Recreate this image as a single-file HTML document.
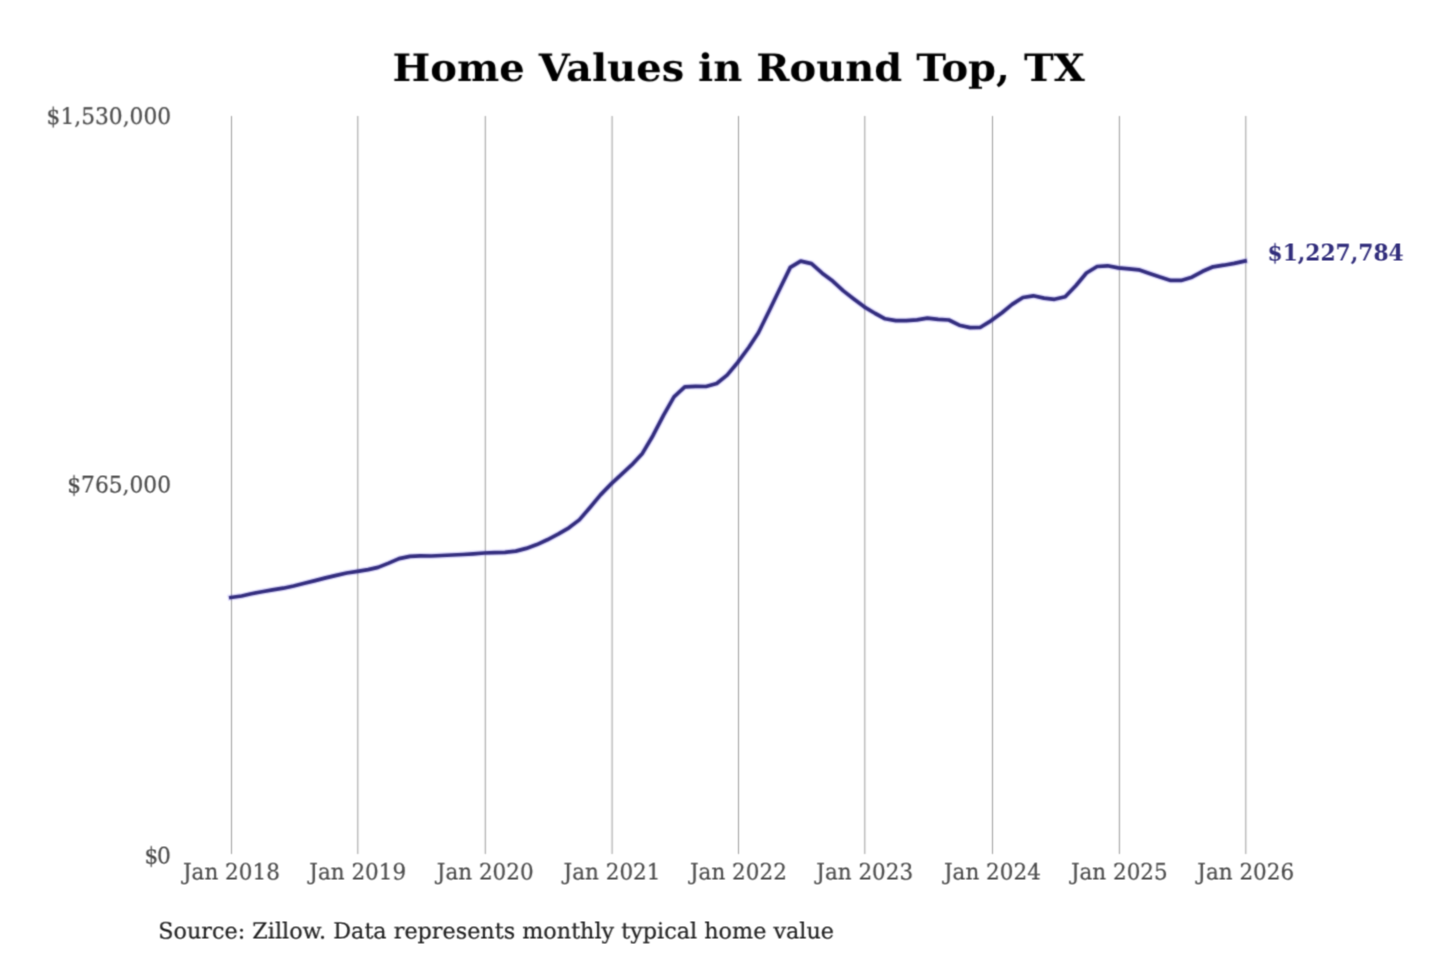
<!DOCTYPE html>
<html lang="en">
<head>
<meta charset="utf-8">
<title>Home Values in Round Top, TX</title>
<style>
html,body{margin:0;padding:0;background:#fff;}
body{width:1440px;height:960px;overflow:hidden;}
svg{display:block;font-family:"DejaVu Serif","Liberation Serif",serif;text-rendering:geometricPrecision;}
.title{font-size:40px;font-weight:bold;fill:#000000;}
.tick{font-size:21.75px;fill:#4a4a4a;stroke:#4a4a4a;stroke-width:0.2px;}
.xtick{font-size:21.5px;fill:#4a4a4a;stroke:#4a4a4a;stroke-width:0.2px;}
.src{font-size:22.3px;fill:#222222;stroke:#222222;stroke-width:0.2px;}
.end{font-size:21.76px;font-weight:bold;fill:#322e7c;}
</style>
</head>
<body>
<svg width="1440" height="960" viewBox="0 0 1440 960">
<defs>
<filter id="soft" filterUnits="userSpaceOnUse" x="0" y="0" width="1440" height="960" color-interpolation-filters="sRGB"><feConvolveMatrix order="3" kernelMatrix="1 3 1 3 9 3 1 3 1" edgeMode="none" preserveAlpha="false"/></filter>
<filter id="softUp" filterUnits="userSpaceOnUse" x="0" y="0" width="1440" height="960" color-interpolation-filters="sRGB"><feConvolveMatrix order="3" kernelMatrix="1 3 1 1 3 1 0 0 0" edgeMode="none" preserveAlpha="false"/></filter>
</defs>
<rect width="1440" height="960" fill="#ffffff"/>
<g filter="url(#soft)">
<text class="title" transform="translate(738.6 81) scale(1 0.945)" text-anchor="middle">Home Values in Round Top, TX</text>
<g stroke="#9a9a9a" stroke-width="1.0" fill="none">
<line x1="231.5" y1="116.0" x2="231.5" y2="854.0"/>
<line x1="357.8" y1="116.0" x2="357.8" y2="854.0"/>
<line x1="485.3" y1="116.0" x2="485.3" y2="854.0"/>
<line x1="612.1" y1="116.0" x2="612.1" y2="854.0"/>
<line x1="738.5" y1="116.0" x2="738.5" y2="854.0"/>
<line x1="864.8" y1="116.0" x2="864.8" y2="854.0"/>
<line x1="992.5" y1="116.0" x2="992.5" y2="854.0"/>
<line x1="1119.4" y1="116.0" x2="1119.4" y2="854.0"/>
<line x1="1245.8" y1="116.0" x2="1245.8" y2="854.0"/>
</g>
<text class="tick" transform="translate(171.1 124) scale(1 1.05)" text-anchor="end">$1,530,000</text>
</g>
<g filter="url(#soft)">
<polyline points="230.8,597.5 241.6,596.0 251.3,593.8 262.0,591.7 272.5,589.9 283.2,588.2 293.6,586.0 304.4,583.3 315.1,580.6 325.6,577.9 336.3,575.4 346.7,573.0 357.5,571.3 368.2,569.6 378.0,567.4 388.7,563.1 399.1,558.6 409.9,556.4 420.3,555.9 431.1,556.0 441.8,555.5 452.2,555.0 463.0,554.5 473.4,553.8 484.2,553.0 494.9,552.6 505.0,552.3 515.8,551.1 526.2,548.4 536.9,544.6 547.3,539.8 558.1,534.2 568.9,527.8 579.3,519.9 590.0,507.5 600.5,494.9 611.2,483.9 622.0,473.9 631.7,464.9 642.4,453.4 652.9,435.7 663.6,415.1 674.0,396.8 684.8,386.9 695.6,386.4 706.0,386.5 716.7,383.5 727.1,375.1 737.9,362.2 748.7,347.5 758.4,332.7 769.1,311.0 779.6,289.3 790.3,267.4 800.7,261.1 811.5,263.6 822.2,273.2 832.7,281.1 843.4,290.9 853.8,299.0 864.6,307.1 875.3,313.5 885.1,318.8 895.8,320.6 906.2,320.6 917.0,319.8 927.4,318.2 938.2,319.3 948.9,320.0 959.3,325.2 970.1,327.6 980.5,327.3 991.3,320.6 1002.0,312.7 1012.1,304.4 1022.9,297.5 1033.3,295.8 1044.0,298.1 1054.4,299.3 1065.2,296.8 1076.0,285.5 1086.4,273.0 1097.1,266.5 1107.6,265.8 1118.3,267.9 1129.1,268.8 1138.8,269.8 1149.5,273.4 1160.0,277.0 1170.7,280.4 1181.1,280.4 1191.9,277.2 1202.7,271.3 1213.1,266.8 1223.8,265.2 1234.2,263.4 1245.0,261.0" fill="none" stroke="#5b4dff" stroke-opacity="0.16" stroke-width="6.4" stroke-linejoin="round" stroke-linecap="square"/>
<polyline points="230.8,597.5 241.6,596.0 251.3,593.8 262.0,591.7 272.5,589.9 283.2,588.2 293.6,586.0 304.4,583.3 315.1,580.6 325.6,577.9 336.3,575.4 346.7,573.0 357.5,571.3 368.2,569.6 378.0,567.4 388.7,563.1 399.1,558.6 409.9,556.4 420.3,555.9 431.1,556.0 441.8,555.5 452.2,555.0 463.0,554.5 473.4,553.8 484.2,553.0 494.9,552.6 505.0,552.3 515.8,551.1 526.2,548.4 536.9,544.6 547.3,539.8 558.1,534.2 568.9,527.8 579.3,519.9 590.0,507.5 600.5,494.9 611.2,483.9 622.0,473.9 631.7,464.9 642.4,453.4 652.9,435.7 663.6,415.1 674.0,396.8 684.8,386.9 695.6,386.4 706.0,386.5 716.7,383.5 727.1,375.1 737.9,362.2 748.7,347.5 758.4,332.7 769.1,311.0 779.6,289.3 790.3,267.4 800.7,261.1 811.5,263.6 822.2,273.2 832.7,281.1 843.4,290.9 853.8,299.0 864.6,307.1 875.3,313.5 885.1,318.8 895.8,320.6 906.2,320.6 917.0,319.8 927.4,318.2 938.2,319.3 948.9,320.0 959.3,325.2 970.1,327.6 980.5,327.3 991.3,320.6 1002.0,312.7 1012.1,304.4 1022.9,297.5 1033.3,295.8 1044.0,298.1 1054.4,299.3 1065.2,296.8 1076.0,285.5 1086.4,273.0 1097.1,266.5 1107.6,265.8 1118.3,267.9 1129.1,268.8 1138.8,269.8 1149.5,273.4 1160.0,277.0 1170.7,280.4 1181.1,280.4 1191.9,277.2 1202.7,271.3 1213.1,266.8 1223.8,265.2 1234.2,263.4 1245.0,261.0" fill="none" stroke="#332d7e" stroke-width="3.7" stroke-linejoin="round" stroke-linecap="square"/>
</g>
<g filter="url(#softUp)">
<text class="tick" transform="translate(171.0 493) scale(1 1.05)" text-anchor="end">$765,000</text>
<text letter-spacing="-1.5" class="tick" transform="translate(169.3 864) scale(1 1.05)" text-anchor="end">$0</text>
<text class="xtick" transform="translate(231.4 880) scale(1 1.05)" text-anchor="middle">Jan 2018</text>
<text class="xtick" transform="translate(357.7 880) scale(1 1.05)" text-anchor="middle">Jan 2019</text>
<text class="xtick" transform="translate(485.2 880) scale(1 1.05)" text-anchor="middle">Jan 2020</text>
<text class="xtick" transform="translate(612.0 880) scale(1 1.05)" text-anchor="middle">Jan 2021</text>
<text class="xtick" transform="translate(738.4 880) scale(1 1.05)" text-anchor="middle">Jan 2022</text>
<text class="xtick" transform="translate(864.7 880) scale(1 1.05)" text-anchor="middle">Jan 2023</text>
<text class="xtick" transform="translate(992.4 880) scale(1 1.05)" text-anchor="middle">Jan 2024</text>
<text class="xtick" transform="translate(1119.3 880) scale(1 1.05)" text-anchor="middle">Jan 2025</text>
<text class="xtick" transform="translate(1245.7 880) scale(1 1.05)" text-anchor="middle">Jan 2026</text>
<text class="end" transform="translate(1267.5 261) scale(1 1.05)">$1,227,784</text>
<text class="src" transform="translate(158.3 939) scale(1 1.0)">Source: Zillow. Data represents monthly typical home value</text>
</g>
</svg>
</body>
</html>
